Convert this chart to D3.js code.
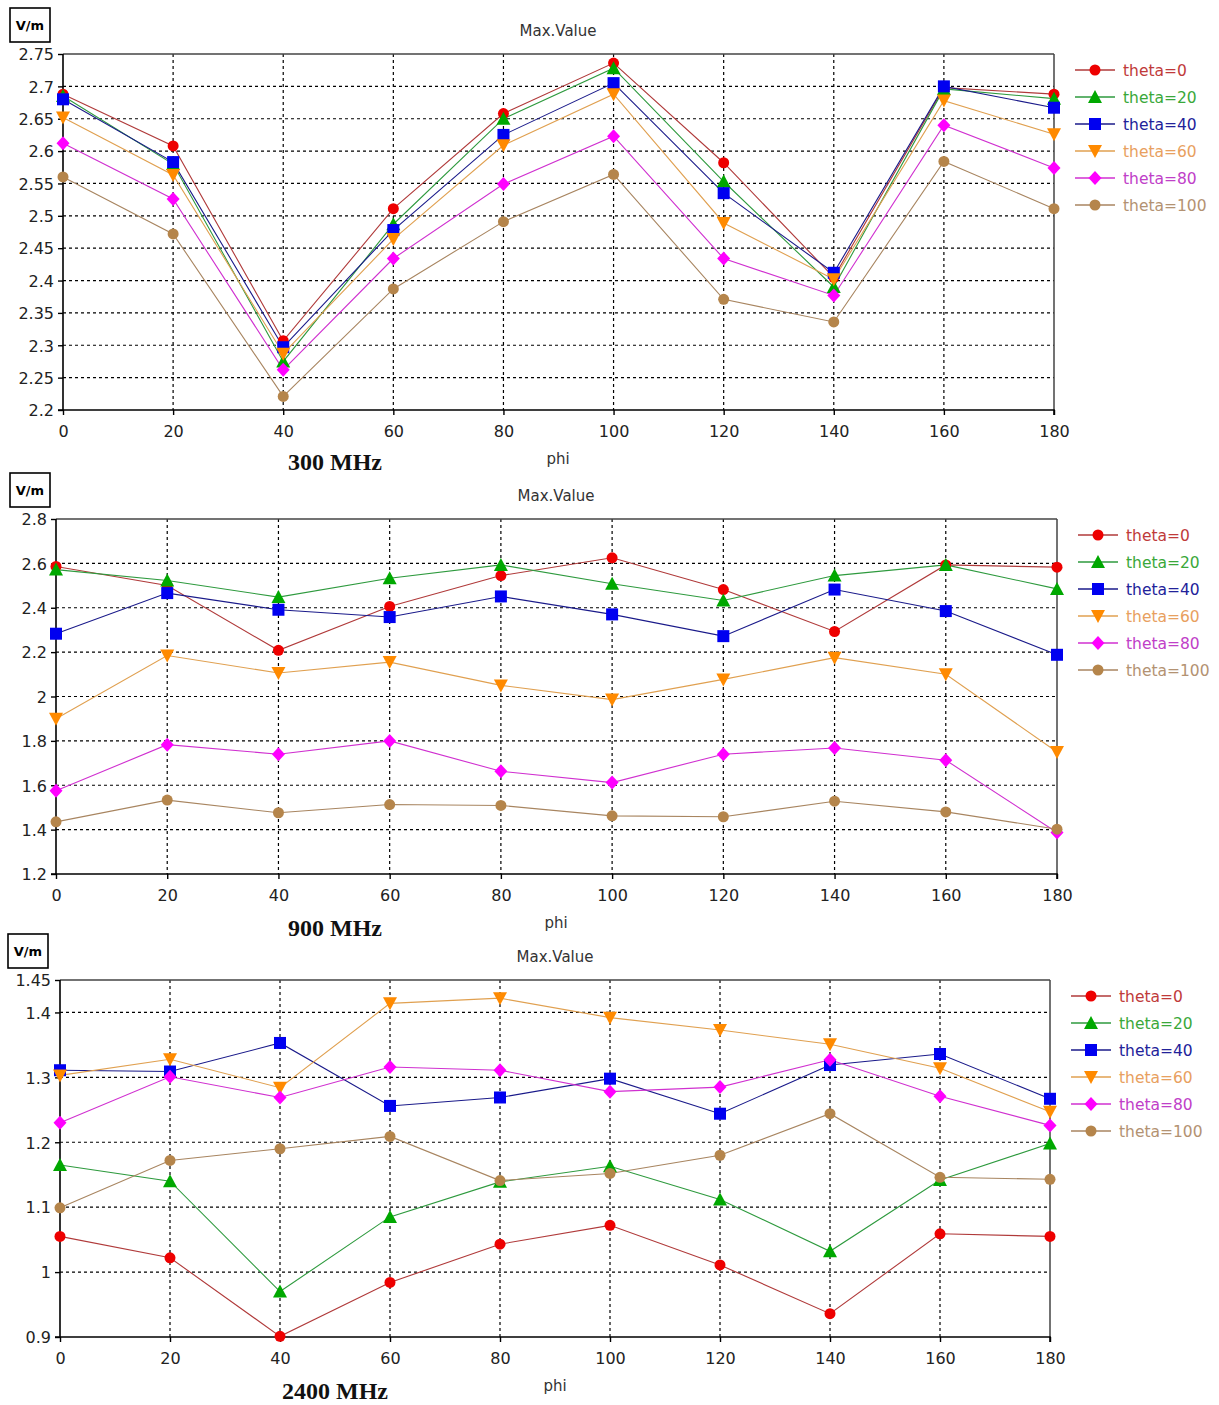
<!DOCTYPE html>
<html><head><meta charset="utf-8">
<script src="https://cdn.jsdelivr.net/npm/d3@7"></script>
<style>
body{margin:0;background:#fff;}
</style></head>
<body><svg id="c" width="1219" height="1405" style="font-family:'DejaVu Sans',sans-serif"></svg>
<script>
const phi = [0,20,40,60,80,100,120,140,160,180];
const seriesNames = ["theta=0","theta=20","theta=40","theta=60","theta=80","theta=100"];

const f300_t0   = [2.688,2.608,2.307,2.511,2.658,2.736,2.582,2.405,2.698,2.688];
const f300_t20  = [2.685,2.580,2.275,2.487,2.650,2.728,2.553,2.390,2.696,2.681];
const f300_t40  = [2.680,2.583,2.297,2.478,2.625,2.705,2.535,2.412,2.700,2.667];
const f300_t60  = [2.652,2.563,2.287,2.464,2.609,2.688,2.489,2.402,2.678,2.626];
const f300_t80  = [2.612,2.526,2.262,2.434,2.549,2.623,2.434,2.377,2.640,2.574];
const f300_t100 = [2.560,2.472,2.221,2.387,2.491,2.564,2.371,2.336,2.584,2.511];
const f300_ticks = [2.2,2.25,2.3,2.35,2.4,2.45,2.5,2.55,2.6,2.65,2.7,2.75];

const f900_t0   = [2.586,2.500,2.208,2.406,2.545,2.625,2.482,2.293,2.593,2.583];
const f900_t20  = [2.572,2.523,2.448,2.533,2.593,2.508,2.433,2.545,2.593,2.485];
const f900_t40  = [2.283,2.466,2.391,2.358,2.451,2.370,2.272,2.482,2.385,2.188];
const f900_t60  = [1.900,2.185,2.106,2.155,2.050,1.986,2.077,2.175,2.100,1.750];
const f900_t80  = [1.575,1.783,1.740,1.800,1.663,1.612,1.740,1.768,1.713,1.387];
const f900_t100 = [1.435,1.533,1.476,1.513,1.509,1.462,1.458,1.528,1.480,1.402];
const f900_ticks = [1.2,1.4,1.6,1.8,2,2.2,2.4,2.6,2.8];

const f2400_t0   = [1.055,1.022,0.901,0.984,1.043,1.072,1.011,0.936,1.059,1.055];
const f2400_t20  = [1.165,1.140,0.970,1.085,1.139,1.163,1.112,1.032,1.142,1.198];
const f2400_t40  = [1.311,1.309,1.353,1.256,1.269,1.298,1.244,1.319,1.336,1.267];
const f2400_t60  = [1.303,1.328,1.284,1.414,1.422,1.392,1.373,1.351,1.314,1.247];
const f2400_t80  = [1.230,1.301,1.269,1.316,1.311,1.278,1.285,1.327,1.271,1.226];
const f2400_t100 = [1.099,1.172,1.190,1.209,1.141,1.152,1.180,1.244,1.146,1.143];
const f2400_ticks = [0.9,1,1.1,1.2,1.3,1.4,1.45];

const panelTitles = ["300 MHz","900 MHz","2400 MHz"];

// styles
const markerColors = ["#ee0000","#00a800","#0000f0","#ff8a00","#ff00ff","#b5854b"];
const lineColors   = ["#b03a3a","#2e9a3e","#1a1a8a","#e0a050","#d030d0","#a88560"];
const textColors   = ["#c03a3a","#3aa83a","#22229a","#e8a060","#c040c8","#b39272"];
const shapes = ["circle","triUp","square","triDown","diamond","circle"];

const panels = [
  {data:[f300_t0,f300_t20,f300_t40,f300_t60,f300_t80,f300_t100], ticks:f300_ticks, dom:[2.2,2.75],
   L:63,R:1054,T:54,B:410, legX:1075, legY:70, box:[10,8], titleY:31, freqY:462, phiY:459, cx:558},
  {data:[f900_t0,f900_t20,f900_t40,f900_t60,f900_t80,f900_t100], ticks:f900_ticks, dom:[1.2,2.8],
   L:56,R:1057,T:519,B:874, legX:1078, legY:535, box:[10,473], titleY:496, freqY:928, phiY:923, cx:556},
  {data:[f2400_t0,f2400_t20,f2400_t40,f2400_t60,f2400_t80,f2400_t100], ticks:f2400_ticks, dom:[0.9,1.45],
   L:60,R:1050,T:980,B:1337, legX:1071, legY:996, box:[8,934], titleY:957, freqY:1391, phiY:1386, cx:555}
];

const svg = d3.select("#c");

function marker(g, shape, x, y, color){
  if(shape==="circle"){
    g.append("circle").attr("cx",x).attr("cy",y).attr("r",5.5).attr("fill",color);
  } else if(shape==="square"){
    g.append("rect").attr("x",x-6).attr("y",y-6).attr("width",12).attr("height",12).attr("fill",color);
  } else if(shape==="triUp"){
    g.append("path").attr("d",`M${x},${y-7}L${x+7},${y+6}L${x-7},${y+6}Z`).attr("fill",color);
  } else if(shape==="triDown"){
    g.append("path").attr("d",`M${x},${y+7}L${x+7},${y-6}L${x-7},${y-6}Z`).attr("fill",color);
  } else if(shape==="diamond"){
    g.append("path").attr("d",`M${x},${y-7}L${x+6.5},${y}L${x},${y+7}L${x-6.5},${y}Z`).attr("fill",color);
  }
}

panels.forEach((p,pi)=>{
  const g = svg.append("g");
  const x = d3.scaleLinear().domain([0,180]).range([p.L,p.R]);
  const y = d3.scaleLinear().domain(p.dom).range([p.B,p.T]);

  // grid
  const gridY = p.ticks.filter(t=>t>p.dom[0] && t<p.dom[1]);
  g.selectAll(null).data(gridY).enter().append("line")
    .attr("x1",p.L).attr("x2",p.R).attr("y1",d=>y(d)).attr("y2",d=>y(d))
    .attr("stroke","#000").attr("stroke-width",1.2).attr("stroke-dasharray","3,3");
  g.selectAll(null).data(phi.filter(d=>d>0&&d<180)).enter().append("line")
    .attr("y1",p.T).attr("y2",p.B).attr("x1",d=>x(d)).attr("x2",d=>x(d))
    .attr("stroke","#000").attr("stroke-width",1.2).attr("stroke-dasharray","3,3");

  // frame
  g.append("line").attr("x1",p.L).attr("x2",p.R).attr("y1",p.T).attr("y2",p.T).attr("stroke","#444").attr("stroke-width",1.5);
  g.append("line").attr("x1",p.R).attr("x2",p.R).attr("y1",p.T).attr("y2",p.B).attr("stroke","#444").attr("stroke-width",1.5);

  // axes
  const ay = g.append("g").attr("transform",`translate(${p.L},0)`)
    .call(d3.axisLeft(y).tickValues(p.ticks).tickSize(5).tickPadding(4).tickFormat(d=>String(+d.toFixed(2))));
  const ax = g.append("g").attr("transform",`translate(0,${p.B})`)
    .call(d3.axisBottom(x).tickValues(phi).tickSize(5).tickPadding(11).tickFormat(d3.format("d")));
  [ay,ax].forEach(a=>{
    a.attr("font-family",null).attr("font-size",null);
    a.select(".domain").attr("stroke","#000").attr("stroke-width",1.6);
    a.selectAll(".tick line").attr("stroke","#000").attr("stroke-width",1.4);
    a.selectAll(".tick text").style("font-size","16px").attr("fill","#222").style("font-family","'DejaVu Sans',sans-serif");
  });
  ay.selectAll(".tick text").attr("dy","0.36em");
  ay.select(".domain").attr("d",`M-5,${p.B}H0V${p.T}`);
  ax.select(".domain").attr("d",`M${p.L},0H${p.R}V5`);

  // series
  const line = d3.line().x((d,i)=>x(phi[i])).y(d=>y(d));
  p.data.forEach((s,si)=>{
    g.append("path").datum(s).attr("d",line).attr("fill","none")
      .attr("stroke",lineColors[si]).attr("stroke-width",1.1);
  });
  p.data.forEach((s,si)=>{
    const mg = g.append("g");
    s.forEach((v,i)=>marker(mg,shapes[si],x(phi[i]),y(v),markerColors[si]));
  });

  // legend
  seriesNames.forEach((n,si)=>{
    const ly = p.legY + si*27;
    g.append("line").attr("x1",p.legX).attr("x2",p.legX+40).attr("y1",ly).attr("y2",ly)
      .attr("stroke",lineColors[si]).attr("stroke-width",1.3);
    marker(g,shapes[si],p.legX+20,ly,markerColors[si]);
    g.append("text").attr("x",p.legX+48).attr("y",ly).attr("dy","0.36em")
      .style("font-size","15.5px").attr("fill",textColors[si]).text(n);
  });

  // title
  g.append("text").attr("x",p.cx).attr("y",p.titleY).attr("dy","0.36em").attr("text-anchor","middle")
    .style("font-size","15px").attr("fill","#333").text("Max.Value");
  // V/m box
  g.append("rect").attr("x",p.box[0]).attr("y",p.box[1]).attr("width",40).attr("height",34)
    .attr("fill","#fff").attr("stroke","#000").attr("stroke-width",1.6);
  g.append("text").attr("x",p.box[0]+20).attr("y",p.box[1]+17).attr("dy","0.36em").attr("text-anchor","middle")
    .style("font-size","13px").style("font-weight","bold").attr("fill","#000").text("V/m");
  // phi
  g.append("text").attr("x",p.cx).attr("y",p.phiY).attr("dy","0.36em").attr("text-anchor","middle")
    .style("font-size","15px").attr("fill","#333").text("phi");
  // freq label
  g.append("text").attr("x",335).attr("y",p.freqY).attr("dy","0.34em").attr("text-anchor","middle")
    .style("font-family","'Liberation Serif',serif").style("font-weight","bold").style("font-size","24px")
    .attr("fill","#111").text(panelTitles[pi]);
});
</script></body></html>
